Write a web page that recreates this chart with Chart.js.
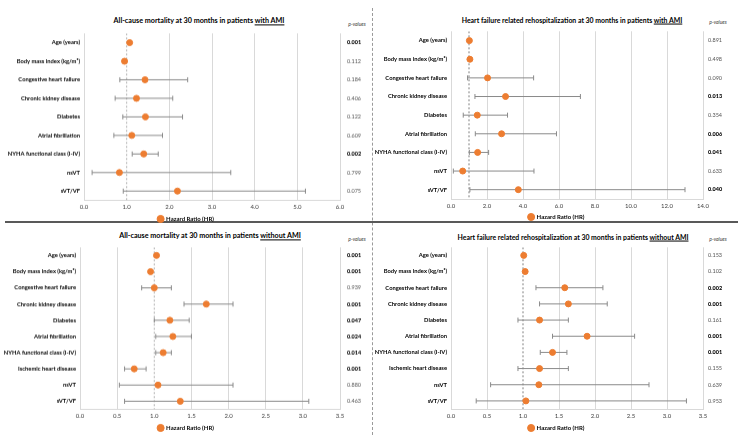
<!DOCTYPE html>
<html><head><meta charset="utf-8">
<script src="https://cdn.jsdelivr.net/npm/chart.js@4.4.1/dist/chart.umd.min.js"></script>
<style>
body{margin:0;width:741px;height:435px;position:relative;background:#fff;overflow:hidden;font-family:Lato,sans-serif}
.title{position:absolute;font-weight:bold;line-height:1;white-space:nowrap;transform:translate(-50%,-50%);color:#000}
.tl{font-size:7.2px}.tr{font-size:6.9px}
.pvh{position:absolute;font-style:italic;font-size:5px;line-height:1;white-space:nowrap;color:#404040;transform:translate(-50%,-50%)}
.vline{position:absolute;left:372px;top:8px;height:427px;border-left:1px dashed #9a9a9a}
.hline{position:absolute;left:5px;top:221px;width:733px;border-top:2px solid #595959}
</style></head>
<body>
<div class="vline"></div>
<div class="hline"></div>
<div class="title tl" style="left:199px;top:21px">All-cause mortality at 30 months in patients <u>with AMI</u></div>
<div class="title tr" style="left:572px;top:20px">Heart failure related rehospitalization at 30 months in patients <u>with AMI</u></div>
<div class="title tl" style="left:210px;top:235.5px">All-cause mortality at 30 months in patients <u>without AMI</u></div>
<div class="title tr" style="left:573px;top:237px">Heart failure related rehospitalization at 30 months in patients <u>without AMI</u></div>
<div class="pvh" style="left:357px;top:24px">p-values</div>
<div class="pvh" style="left:718px;top:22px">p-values</div>
<div class="pvh" style="left:357px;top:239px">p-values</div>
<div class="pvh" style="left:718px;top:239px">p-values</div>
<script>
// ---- categories ----
const catsWithAMI = ['Age (years)','Body mass index (kg/m²)','Congestive heart failure','Chronic kidney disease','Diabetes','Atrial fibrillation','NYHA functional class (I-IV)','nsVT','sVT/VF'];
const catsWithoutAMI = ['Age (years)','Body mass index (kg/m²)','Congestive heart failure','Chronic kidney disease','Diabetes','Atrial fibrillation','NYHA functional class (I-IV)','Ischemic heart disease','nsVT','sVT/VF'];

// ---- panel 1: all-cause mortality, with AMI ----
const hr1 = [1.07,0.95,1.43,1.23,1.44,1.12,1.40,0.83,2.19];
const lo1 = [1.05,0.93,0.84,0.73,0.91,0.70,1.13,0.19,0.92];
const hi1 = [1.09,0.97,2.43,2.08,2.31,1.84,1.74,3.44,5.19];
const p1 = ['0.001','0.112','0.184','0.406','0.122','0.609','0.002','0.799','0.075'];
const sig1 = [1,0,0,0,0,0,1,0,0];
const xTicks1 = [0,1,2,3,4,5,6];

// ---- panel 2: HF rehospitalization, with AMI ----
const hr2 = [1.02,1.05,2.03,3.03,1.46,2.81,1.48,0.65,3.74];
const lo2 = [0.99,1.01,0.92,1.33,0.68,1.35,1.02,0.13,1.05];
const hi2 = [1.05,1.09,4.59,7.19,3.14,5.86,2.09,4.61,13.0];
const p2 = ['0.891','0.498','0.090','0.013','0.354','0.006','0.041','0.633','0.040'];
const sig2 = [0,0,0,1,0,1,1,0,1];
const xTicks2 = [0,2,4,6,8,10,12,14];

// ---- panel 3: all-cause mortality, without AMI ----
const hr3 = [1.03,0.95,1.00,1.70,1.21,1.25,1.12,0.73,1.05,1.35];
const lo3 = [1.02,0.93,0.83,1.40,1.00,1.02,1.02,0.60,0.53,0.60];
const hi3 = [1.04,0.97,1.23,2.06,1.47,1.50,1.23,0.89,2.06,3.08];
const p3 = ['0.001','0.001','0.939','0.001','0.047','0.024','0.014','0.001','0.880','0.463'];
const sig3 = [1,1,0,1,1,1,1,1,0,0];
const xTicks3 = [0,0.5,1,1.5,2,2.5,3,3.5];

// ---- panel 4: HF rehospitalization, without AMI ----
const hr4 = [1.01,1.03,1.58,1.63,1.23,1.89,1.41,1.23,1.22,1.04];
const lo4 = [1.00,1.01,1.18,1.23,0.93,1.41,1.24,0.93,0.55,0.35];
const hi4 = [1.02,1.05,2.11,2.17,1.63,2.55,1.61,1.63,2.75,3.27];
const p4 = ['0.153','0.102','0.002','0.001','0.161','0.001','0.001','0.155','0.639','0.953'];
const sig4 = [0,0,1,1,0,1,1,0,0,0];
const xTicks4 = [0,0.5,1,1.5,2,2.5,3,3.5];

Chart.defaults.font.family = "Lato, sans-serif";
Chart.defaults.color = '#000';

function build(o){
  const n = o.cats.length;
  const canvas = document.createElement('canvas');
  canvas.width = o.w; canvas.height = o.h;
  canvas.style.cssText = `position:absolute;left:${o.left}px;top:${o.top}px;width:${o.w}px;height:${o.h}px`;
  document.body.appendChild(canvas);
  const ds = [{
    label:'Hazard Ratio (HR)', data:o.hr.map((v,i)=>({x:v,y:i})),
    backgroundColor:'#ED7D31', borderColor:'#ED7D31', pointRadius:3, pointHoverRadius:3,
    pointStyle:'circle', order:0
  }];
  o.lo.forEach((l,i)=>ds.push({
    label:'ci'+i, data:[{x:l,y:i},{x:o.hi[i],y:i}], showLine:true,
    borderColor:'#8a8a8a', borderWidth:1, pointStyle:'line', pointRotation:90,
    pointRadius:2.5, pointHoverRadius:2.5, pointBorderColor:'#8a8a8a', pointBorderWidth:1, order:2
  }));
  ds.push({label:'ref', data:[{x:1,y:-0.5},{x:1,y:n-0.5}], showLine:true,
    borderColor:o.refColor, borderWidth:1, borderDash:[2,2], pointRadius:0, pointHoverRadius:0, order:3});
  const intTicks = axis => { axis.ticks = o.cats.map((c,i)=>({value:i})); };
  new Chart(canvas, {
    type:'scatter',
    data:{datasets:ds},
    options:{
      responsive:false, animation:false, devicePixelRatio:1,
      layout:{padding:{top:o.padTop,left:0,right:0,bottom:0}},
      plugins:{
        legend:{position:'bottom', labels:{filter:it=>it.datasetIndex===0, usePointStyle:true, pointStyle:'circle',
          boxWidth:5, boxHeight:5, padding:2, font:{size:6,weight:'bold'}, color:'#000'}},
        tooltip:{enabled:false}
      },
      scales:{
        x:{type:'linear', min:0, max:o.xt[o.xt.length-1],
          afterBuildTicks:a=>{a.ticks=o.xt.map(v=>({value:v}));},
          ticks:{callback:v=>Number(v).toFixed(1), font:{size:6}, color:'#404040', padding:o.tpad, maxRotation:0, autoSkip:false},
          grid:{color:c=>(c.tick && c.tick.value===1)?'rgba(0,0,0,0)':'#d9d9d9', drawTicks:false, lineWidth:1},
          border:{display:true, color:'#d9d9d9'},
          afterFit:a=>{a.height=o.xh;}},
        y:{type:'linear', min:-0.5, max:n-0.5, reverse:true, afterBuildTicks:intTicks,
          ticks:{autoSkip:false, callback:v=>o.cats[v], font:{size:5.8,weight:'bold'}, color:'#000', padding:4},
          grid:{display:false, drawTicks:false}, border:{display:false}, afterFit:a=>{a.width=o.lw;}},
        y2:{type:'linear', position:'right', min:-0.5, max:n-0.5, reverse:true, afterBuildTicks:intTicks,
          ticks:{autoSkip:false, callback:v=>o.pv[v],
            font:c=>({family:'Lato, sans-serif', size:5.5, weight:o.sig[c.index]?'900':'400'}),
            color:c=>o.sig[c.index]?'#000':'#555', padding:o.rpad},
          grid:{display:false, drawTicks:false}, border:{display:false}, afterFit:a=>{a.width=o.rw;}}
      }
    }
  });
}

build({left:0, top:23.4, w:372, h:208.5, padTop:4, lw:84, rw:32, rpad:7, xh:13.5, tpad:2.5, refColor:'#b0b0b0',
  cats:catsWithAMI, hr:hr1, lo:lo1, hi:hi1, pv:p1, sig:sig1, xt:xTicks1});
build({left:372, top:22.9, w:369, h:207, padTop:4.5, lw:79, rw:38, rpad:5, xh:13, tpad:3, refColor:'#808080',
  cats:catsWithAMI, hr:hr2, lo:lo2, hi:hi2, pv:p2, sig:sig2, xt:xTicks2});
build({left:0, top:237.3, w:372, h:203.5, padTop:4, lw:80, rw:32, rpad:7, xh:13.5, tpad:2.5, refColor:'#b0b0b0',
  cats:catsWithoutAMI, hr:hr3, lo:lo3, hi:hi3, pv:p3, sig:sig3, xt:xTicks3});
build({left:372, top:239.4, w:369, h:202, padTop:4, lw:79, rw:38, rpad:5, xh:14, tpad:3, refColor:'#808080',
  cats:catsWithoutAMI, hr:hr4, lo:lo4, hi:hi4, pv:p4, sig:sig4, xt:xTicks4});
</script>
</body></html>
